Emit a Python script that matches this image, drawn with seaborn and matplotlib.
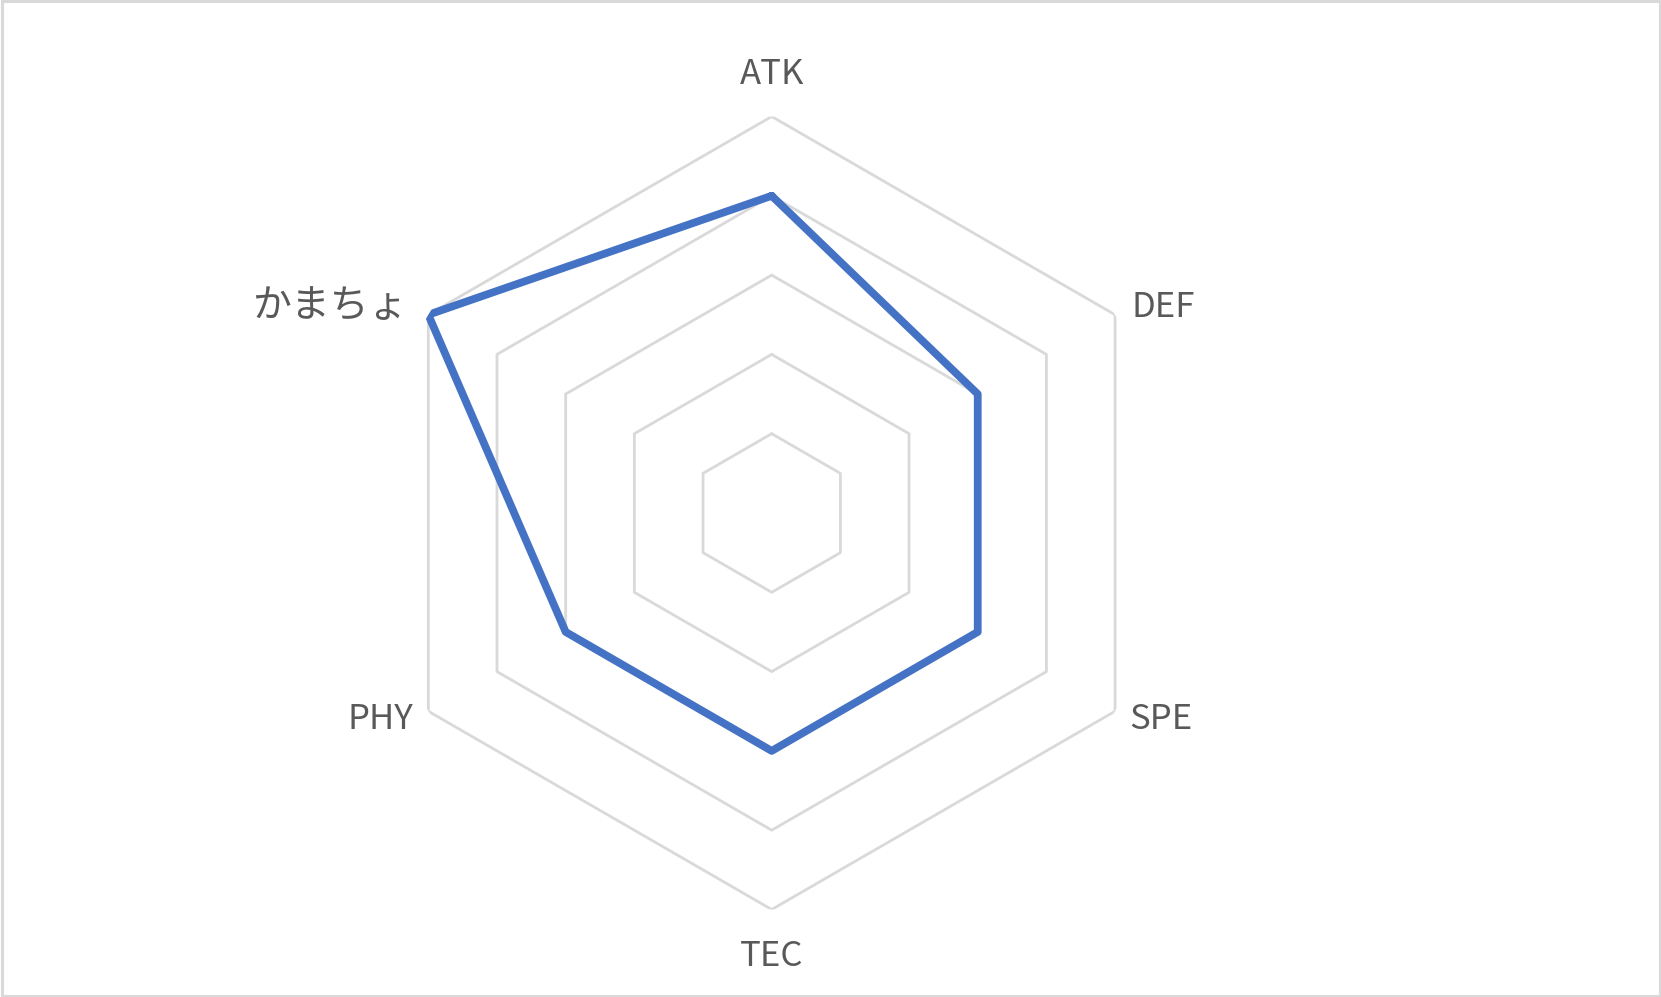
import numpy as np
import matplotlib
matplotlib.use("Agg")
import matplotlib.pyplot as plt
from matplotlib.patches import Rectangle
import seaborn as sns

# data
categories = ["ATK", "DEF", "SPE", "TEC", "PHY", "かまちょ"]
values = [4, 3, 3, 3, 3, 5]
levels = [1, 2, 3, 4, 5]

# label placement (offset in points from the outer vertex, alignment, size)
label_offsets = [(0, 18), (12, 5), (10, -6), (0, -21), (-11, -6), (-14, 6)]
label_align = [("center", "bottom"), ("left", "center"), ("left", "center"),
               ("center", "top"), ("right", "center"), ("right", "center")]
label_sizes = [25, 25, 25, 25, 25, 28]

sns.set_style("white")
plt.rcParams['font.family'] = ['Noto Sans CJK JP', 'DejaVu Sans']

W, H = 1661, 997
fig = plt.figure(figsize=(W / 100, H / 100), dpi=100)

cx, cy, R = 771.7, 513.0, 396.5
ax = fig.add_axes([(cx - R) / W, (H - cy - R) / H, 2 * R / W, 2 * R / H],
                  projection="polar")
ax.set_theta_offset(np.pi / 2)
ax.set_theta_direction(-1)
ax.set_ylim(0, max(levels))
ax.grid(False)
ax.spines["polar"].set_visible(False)
ax.set_xticks([])
ax.set_yticks([])
ax.patch.set_alpha(0)

n = len(categories)
theta = np.arange(n) * 2 * np.pi / n
theta_c = np.append(theta, 2 * np.pi)

# hexagon gridlines
for lv in levels:
    ax.plot(theta_c, [lv] * (n + 1), color="#D9D9D9", linewidth=2.0, zorder=1)

vals_c = values + values[:1]
sns.lineplot(x=theta_c, y=vals_c, sort=False, estimator=None, ax=ax,
             color="#4472C4", linewidth=5.6, zorder=3)
for line in ax.lines[-1:]:
    line.set_solid_joinstyle("round")
ax.set_xlabel("")
ax.set_ylabel("")

for t, lab, off, (ha, va), fs in zip(theta, categories, label_offsets,
                                     label_align, label_sizes):
    ax.annotate(lab, xy=(t, max(levels)), xytext=off, textcoords="offset points",
                ha=ha, va=va, fontsize=fs, color="#595959")

fig.patches.append(Rectangle((1.5 / W, 1.5 / H), 1 - 3 / W, 1 - 3 / H,
                             transform=fig.transFigure, fill=False,
                             edgecolor="#D9D9D9", linewidth=2.2))

fig.savefig("out.png", dpi=100, facecolor="white")
